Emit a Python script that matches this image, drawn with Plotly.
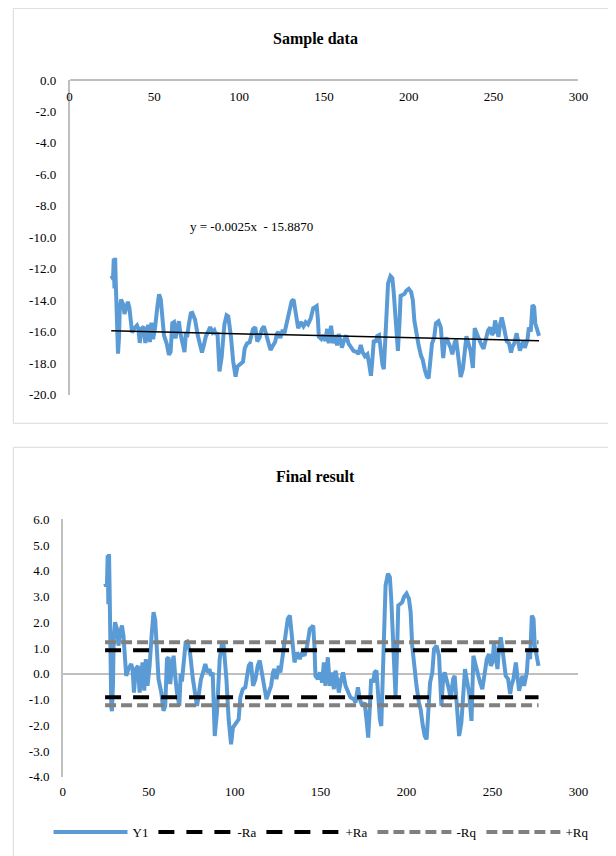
import plotly.graph_objects as go

# ---------------- data ----------------
# positions along the profile (x) and detrended values (Y1, "Final result")
X = [24.6, 25.2, 25.7, 26.1, 26.5, 26.9, 27.3, 27.7, 28.2, 28.6, 29.2, 29.6, 30.4, 31.5, 32.4, 33.4,
     34.4, 35.3, 36.3, 36.9, 38.2, 39.8, 40.6, 41.4, 42.5, 43.7, 44.7, 45.6, 46.4, 47.4, 48.3, 49.3,
     50.5, 51.8, 52.8, 53.8, 54.8, 55.7, 57.3, 58.6, 59.6, 60.6, 61.6, 62.5, 63.5, 64.5, 65.4, 66.4,
     67.8, 68.6, 69.3, 70.3, 71.5, 72.4, 74.0, 75.7, 77.1, 78.1, 79.0, 80.4, 81.6, 82.9, 84.3, 85.4,
     86.2, 87.2, 88.4, 89.7, 91.3, 92.6, 93.6, 95.2, 96.5, 97.9, 99.0, 101.0, 102.3, 103.3, 104.7,
     106.2, 108.2, 109.5, 110.7, 112.1, 113.4, 114.6, 115.9, 117.3, 118.5, 119.8, 121.2, 122.3, 123.1,
     124.3, 125.7, 126.6, 127.6, 129.0, 130.1, 130.9, 132.1, 133.4, 134.8, 136.3, 137.9, 139.2, 140.6,
     142.2, 143.7, 144.8, 145.7, 146.4, 147.0, 148.4, 149.6, 150.9, 151.9, 152.8, 154.2, 155.4, 156.7,
     157.7, 158.7, 159.6, 160.6, 162.0, 163.1, 164.5, 166.4, 167.4, 169.4, 170.3, 171.7, 172.8, 174.2,
     175.6, 176.7, 177.7, 178.5, 179.4, 180.6, 181.4, 182.5, 183.5, 184.5, 185.3, 185.9, 186.8, 187.8,
     189.2, 190.3, 191.1, 192.3, 193.0, 193.6, 194.6, 195.2, 196.5, 197.5, 198.5, 200.0, 201.4, 202.4,
     203.3, 204.3, 205.8, 207.2, 208.2, 209.5, 210.6, 211.7, 212.5, 213.7, 215.0, 216.0, 217.5, 218.9,
     220.3, 221.4, 222.2, 223.4, 224.7, 225.7, 227.1, 228.0, 229.2, 230.6, 231.9, 233.1, 234.0, 235.0,
     236.4, 237.8, 238.9, 240.3, 241.6, 242.8, 244.1, 245.5, 246.7, 248.0, 249.0, 250.0, 250.9, 251.9,
     252.9, 253.8, 254.8, 255.8, 256.8, 257.7, 259.1, 260.3, 261.0, 262.2, 263.6, 264.5, 265.5, 266.5,
     267.5, 268.4, 270.0, 270.8, 271.9, 272.9, 273.9, 274.6, 275.4, 276.2, 276.8]

Y1 = [3.50, 3.40, 3.45, 4.60, 2.70, 4.65, 3.00, 0.50, -1.30, -1.45, -0.40, 1.35, 2.00, 1.74, 1.09, 1.61,
      1.87, 1.48, 0.31, -0.08, 0.18, 0.38, 0.18, -0.73, 0.18, 0.31, -0.73, 0.18, 0.44, -0.66, 0.57, -0.47,
      0.31, 1.61, 2.39, 2.07, 0.96, -0.21, -0.73, -1.44, -1.25, 0.57, 0.64, -0.40, 0.31, 0.70, -0.08, -0.73,
      -1.25, 0.00, -0.30, 0.50, 1.22, 1.25, 0.83, -0.21, -0.86, -1.25, -0.86, -0.21, 0.05, 0.38, 0.05, 0.18,
      -0.08, 0.05, -2.42, -1.51, 0.57, 1.16, 1.09, -0.21, -1.77, -2.74, -2.09, -1.90, -1.77, -0.92, -0.60,
      -0.53, 0.31, 0.44, -0.47, -0.21, 0.31, 0.51, 0.05, -0.47, -0.99, -0.73, -0.47, 0.05, 0.18,
      -0.21, 0.31, 0.05, 0.57, 1.09, 1.61, 2.13, 2.26, 1.35, 0.44, 0.83, 0.57, 0.83, 0.70,
      1.09, 1.74, 1.80, 1.87, 1.09, -0.08, -0.21, 0.05, -0.34, 0.44, -0.47, 0.64, -0.47, 0.05,
      -0.60, 0.12, -0.21, -0.73, -0.21, 0.05, -0.47, -0.73, -0.92, -0.99, -1.12, -0.53, -0.99, -1.25,
      -1.12, -1.77, -2.48, -1.51, -0.21, -0.34, 0.05, 0.12, -0.99, -1.77, -2.03, -0.73, 2.00, 3.43,
      3.89, 3.76, 2.91, 1.09, -0.73, -0.86, 1.09, 2.65, 2.72, 2.78, 2.98, 3.11, 2.91, 2.39,
      1.09, 0.31, -0.47, -1.12, -1.38, -2.03, -2.42, -2.55, -1.51, -0.34, 0.05, 0.96, 1.09, 0.70,
      -1.25, -0.08, 0.05, -0.21, -0.60, -0.99, -0.21, -0.08, -1.25, -2.42, -1.90, -0.73, 0.18, -0.21,
      -0.73, -1.83, 0.70, 0.31, -0.08, -0.34, -0.60, 0.18, 0.57, 0.77, 0.31, 0.44, 1.22, 0.70,
      0.18, 0.96, 1.42, 0.96, 0.18, -0.08, -0.21, -0.79, -0.47, -0.21, 0.44, -0.21, -0.66, -0.34,
      -0.08, -0.47, 0.05, 0.83, 0.57, 2.26, 2.13, 1.09, 0.83, 0.44, 0.31]

# linear trend of the raw sample (shown on the first chart)
TREND_SLOPE = -0.0025
TREND_INTERCEPT = -15.8870
TREND_LABEL = "y = -0.0025x \u00a0- 15.8870"

# roughness parameters
RA = 0.91
RQ = 1.22

# tick labels
X_TICKS = [0, 50, 100, 150, 200, 250, 300]
X_TICK_TEXT = ["0", "50", "100", "150", "200", "250", "300"]
Y_TICKS_TOP = [0, -2, -4, -6, -8, -10, -12, -14, -16, -18, -20]
Y_TICK_TEXT_TOP = ["0.0", "-2.0", "-4.0", "-6.0", "-8.0", "-10.0", "-12.0", "-14.0", "-16.0", "-18.0", "-20.0"]
Y_TICKS_BOT = [6, 5, 4, 3, 2, 1, 0, -1, -2, -3, -4]
Y_TICK_TEXT_BOT = ["6.0", "5.0", "4.0", "3.0", "2.0", "1.0", "0.0", "-1.0", "-2.0", "-3.0", "-4.0"]

# raw sample = residual + trend
SAMPLE = [y + TREND_SLOPE * x + TREND_INTERCEPT for x, y in zip(X, Y1)]
x_ends = [X[0], X[-1]]
trend_ends = [TREND_SLOPE * x + TREND_INTERCEPT for x in x_ends]

# ---------------- figure ----------------
W, H = 616, 856
OFF = 8  # page body margin offset
FONT = "Liberation Serif, Times New Roman, serif"
BLUE = "#5B9BD5"
AXIS = "#BFBFBF"
FRAME = "#D9D9D9"

def px(v):
    return (v - OFF) / W

def py(v):
    return 1 - (v - OFF) / H

fig = go.Figure()

# top chart
fig.add_trace(go.Scatter(x=X, y=SAMPLE, mode="lines", line=dict(color=BLUE, width=4),
                         showlegend=False, xaxis="x", yaxis="y"))
fig.add_trace(go.Scatter(x=x_ends, y=trend_ends, mode="lines", line=dict(color="black", width=1.5),
                         showlegend=False, xaxis="x", yaxis="y"))

# bottom chart
fig.add_trace(go.Scatter(x=X, y=Y1, mode="lines", name="Y1", line=dict(color=BLUE, width=4),
                         xaxis="x2", yaxis="y2"))
fig.add_trace(go.Scatter(x=x_ends, y=[-RA, -RA], mode="lines", name="-Ra",
                         line=dict(color="black", width=4, dash="16px,12px"), xaxis="x2", yaxis="y2"))
fig.add_trace(go.Scatter(x=x_ends, y=[RA, RA], mode="lines", name="+Ra",
                         line=dict(color="black", width=4, dash="16px,12px"), xaxis="x2", yaxis="y2"))
fig.add_trace(go.Scatter(x=x_ends, y=[-RQ, -RQ], mode="lines", name="-Rq",
                         line=dict(color="#808080", width=4, dash="11px,5px"), xaxis="x2", yaxis="y2"))
fig.add_trace(go.Scatter(x=x_ends, y=[RQ, RQ], mode="lines", name="+Rq",
                         line=dict(color="#808080", width=4, dash="11px,5px"), xaxis="x2", yaxis="y2"))

tickfont = dict(family=FONT, size=13, color="#000000")

def frame_line(x0, y0, x1, y1):
    return dict(type="line", xref="paper", yref="paper", x0=x0, y0=y0, x1=x1, y1=y1,
                line=dict(color=FRAME, width=1), layer="below")

fig.update_layout(
    width=W, height=H, autosize=False,
    margin=dict(l=0, r=0, t=0, b=0, autoexpand=False),
    paper_bgcolor="white", plot_bgcolor="white",
    font=dict(family=FONT, size=13, color="black"),
    xaxis=dict(domain=[px(69.5), px(578.4)], anchor="free", position=py(80), side="bottom",
               range=[0, 300], tickvals=X_TICKS, ticktext=X_TICK_TEXT,
               showline=True, linecolor=AXIS, linewidth=1.5, showgrid=False, zeroline=False,
               ticks="", tickfont=tickfont, ticklabelstandoff=5, automargin=False),
    yaxis=dict(domain=[py(394.5), py(80)], anchor="x", range=[-20, 0],
               tickvals=Y_TICKS_TOP, ticktext=Y_TICK_TEXT_TOP,
               showline=True, linecolor=AXIS, linewidth=1.5, showgrid=False, zeroline=False,
               ticks="", tickfont=tickfont, ticklabelstandoff=9, automargin=False),
    xaxis2=dict(domain=[px(62.8), px(578.4)], anchor="y2", range=[0, 300],
                tickvals=X_TICKS, ticktext=X_TICK_TEXT,
                showline=False, showgrid=False, zeroline=False, ticks="", tickfont=tickfont,
                ticklabelstandoff=5, automargin=False),
    yaxis2=dict(domain=[py(776.7), py(519.3)], anchor="x2", range=[-4, 6],
                tickvals=Y_TICKS_BOT, ticktext=Y_TICK_TEXT_BOT,
                showline=True, linecolor=AXIS, linewidth=1.5, showgrid=False,
                zeroline=True, zerolinecolor=AXIS, zerolinewidth=1.5,
                ticks="", tickfont=tickfont, ticklabelstandoff=9, automargin=False),
    legend=dict(orientation="h", x=px(321), y=py(832), xanchor="center", yanchor="middle",
                font=dict(family=FONT, size=13, color="black"), itemwidth=74,
                bgcolor="rgba(0,0,0,0)", traceorder="normal"),
    shapes=[
        # top chart frame (open on the right, runs off the page)
        frame_line(px(13.3), py(8.3), 1.0, py(8.3)),
        frame_line(px(13.3), py(8.3), px(13.3), py(423.3)),
        frame_line(px(13.3), py(423.3), 1.0, py(423.3)),
        # bottom chart frame (runs off the page right and bottom)
        frame_line(px(13.3), py(447.3), 1.0, py(447.3)),
        frame_line(px(13.3), py(447.3), px(13.3), 0.0),
    ],
    annotations=[
        dict(text="<b>Sample data</b>", xref="paper", yref="paper", x=px(315.5), y=py(39),
             xanchor="center", yanchor="middle", showarrow=False,
             font=dict(family=FONT, size=16, color="black")),
        dict(text="<b>Final result</b>", xref="paper", yref="paper", x=px(315.5), y=py(477),
             xanchor="center", yanchor="middle", showarrow=False,
             font=dict(family=FONT, size=16, color="black")),
        dict(text=TREND_LABEL, xref="paper", yref="paper", x=px(251), y=py(226),
             xanchor="center", yanchor="middle", showarrow=False,
             font=dict(family=FONT, size=13, color="black")),
    ],
)

fig.write_html("out.html")
